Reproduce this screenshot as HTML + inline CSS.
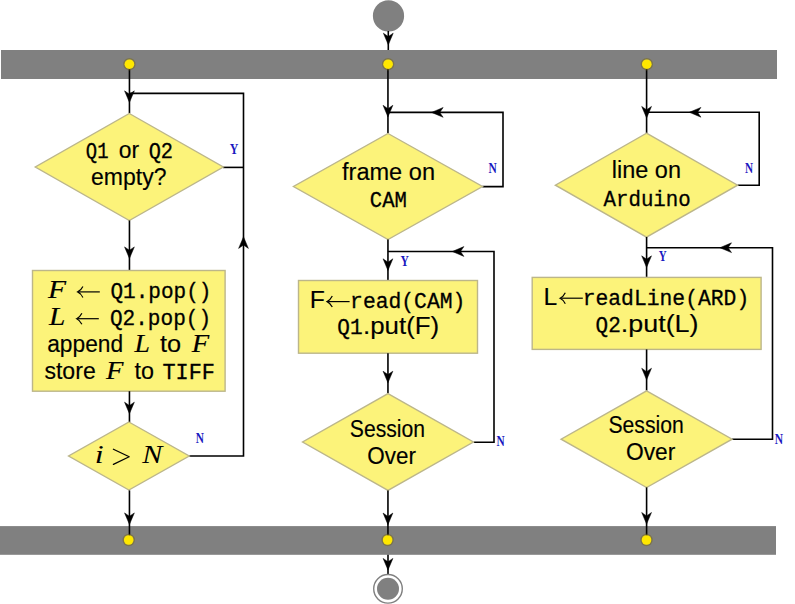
<!DOCTYPE html>
<html><head><meta charset="utf-8"><style>
html,body{margin:0;padding:0;background:#fff;}
body{width:795px;height:604px;overflow:hidden;}
svg{display:block;}
</style></head><body>
<svg width="795" height="604" viewBox="0 0 795 604">
<rect x="1" y="50" width="776" height="29" fill="#808080"/>
<rect x="0" y="526.1" width="776" height="28.7" fill="#808080"/>
<circle cx="388.5" cy="15.9" r="15.6" fill="#808080"/>
<path d="M388.3 31 L388.3 50" fill="none" stroke="#000" stroke-width="1.6"/>
<path transform="translate(388.3,44.8) rotate(0)" d="M0 0 L-4.9 -11.6 L0 -8.2 L4.9 -11.6Z" fill="#000" stroke="#000" stroke-width="0.5" stroke-linejoin="round"/>
<path d="M388 554.8 L388 576.5" fill="none" stroke="#000" stroke-width="1.6"/>
<path transform="translate(388,570.0) rotate(0)" d="M0 0 L-4.9 -11.6 L0 -8.2 L4.9 -11.6Z" fill="#000" stroke="#000" stroke-width="0.5" stroke-linejoin="round"/>
<circle cx="388" cy="588.8" r="14.3" fill="#fff" stroke="#808080" stroke-width="1.4"/>
<circle cx="388" cy="588.8" r="11" fill="#808080"/>
<path d="M129.45 64 L129.45 113.4" fill="none" stroke="#000" stroke-width="1.6"/>
<path transform="translate(129.45,102.45) rotate(0)" d="M0 0 L-4.9 -11.6 L0 -8.2 L4.9 -11.6Z" fill="#000" stroke="#000" stroke-width="0.5" stroke-linejoin="round"/>
<path d="M129.45 93.4 L243.5 93.4 L243.5 456 L189.2 456" fill="none" stroke="#000" stroke-width="1.6"/>
<path transform="translate(243.5,236.79999999999998) rotate(180)" d="M0 0 L-4.9 -11.6 L0 -8.2 L4.9 -11.6Z" fill="#000" stroke="#000" stroke-width="0.5" stroke-linejoin="round"/>
<path d="M223 167.4 L243.5 167.4" fill="none" stroke="#000" stroke-width="1.6"/>
<path d="M129.3 113.5 L223.3 167 L129.3 220.5 L35.30000000000001 167Z" fill="#fcf37a" stroke="#bcb68a" stroke-width="1.4"/>
<path d="M129.45 220.5 L129.45 270.5" fill="none" stroke="#000" stroke-width="1.6"/>
<path transform="translate(129.45,258.5) rotate(0)" d="M0 0 L-4.9 -11.6 L0 -8.2 L4.9 -11.6Z" fill="#000" stroke="#000" stroke-width="0.5" stroke-linejoin="round"/>
<rect x="32.5" y="270.5" width="192.6" height="120.69999999999999" fill="#fcf37a" stroke="#bcb68a" stroke-width="1.4"/>
<path d="M129.45 391.2 L129.45 422.3" fill="none" stroke="#000" stroke-width="1.6"/>
<path transform="translate(129.45,413.75) rotate(0)" d="M0 0 L-4.9 -11.6 L0 -8.2 L4.9 -11.6Z" fill="#000" stroke="#000" stroke-width="0.5" stroke-linejoin="round"/>
<path d="M128.9 422 L189.2 456 L128.9 490 L68.60000000000001 456Z" fill="#fcf37a" stroke="#bcb68a" stroke-width="1.4"/>
<path d="M129.45 490.4 L129.45 540" fill="none" stroke="#000" stroke-width="1.6"/>
<path transform="translate(129.45,524.5) rotate(0)" d="M0 0 L-4.9 -11.6 L0 -8.2 L4.9 -11.6Z" fill="#000" stroke="#000" stroke-width="0.5" stroke-linejoin="round"/>
<path d="M387.95 64 L387.95 133.3" fill="none" stroke="#000" stroke-width="1.6"/>
<path transform="translate(387.95,116.89999999999999) rotate(0)" d="M0 0 L-4.9 -11.6 L0 -8.2 L4.9 -11.6Z" fill="#000" stroke="#000" stroke-width="0.5" stroke-linejoin="round"/>
<path d="M387.95 112.4 L503 112.4 L503 186.6 L482.3 186.6" fill="none" stroke="#000" stroke-width="1.6"/>
<path transform="translate(431.55,112.4) rotate(90)" d="M0 0 L-4.9 -11.6 L0 -8.2 L4.9 -11.6Z" fill="#000" stroke="#000" stroke-width="0.5" stroke-linejoin="round"/>
<path d="M388 133.5 L482.5 186.5 L388 239.5 L293.5 186.5Z" fill="#fcf37a" stroke="#bcb68a" stroke-width="1.4"/>
<path d="M387.95 239.5 L387.95 280.5" fill="none" stroke="#000" stroke-width="1.6"/>
<path transform="translate(387.95,270.40000000000003) rotate(0)" d="M0 0 L-4.9 -11.6 L0 -8.2 L4.9 -11.6Z" fill="#000" stroke="#000" stroke-width="0.5" stroke-linejoin="round"/>
<path d="M387.95 251.5 L494 251.5 L494 442.2 L473.8 442.2" fill="none" stroke="#000" stroke-width="1.6"/>
<path transform="translate(452.3,251.5) rotate(90)" d="M0 0 L-4.9 -11.6 L0 -8.2 L4.9 -11.6Z" fill="#000" stroke="#000" stroke-width="0.5" stroke-linejoin="round"/>
<rect x="298.5" y="280.5" width="179.0" height="72.69999999999999" fill="#fcf37a" stroke="#bcb68a" stroke-width="1.4"/>
<path d="M387.95 353.2 L387.95 393.5" fill="none" stroke="#000" stroke-width="1.6"/>
<path transform="translate(387.95,382.8) rotate(0)" d="M0 0 L-4.9 -11.6 L0 -8.2 L4.9 -11.6Z" fill="#000" stroke="#000" stroke-width="0.5" stroke-linejoin="round"/>
<path d="M388 393.6 L473.4 442 L388 490.4 L302.6 442Z" fill="#fcf37a" stroke="#bcb68a" stroke-width="1.4"/>
<path d="M387.95 490.5 L387.95 540" fill="none" stroke="#000" stroke-width="1.6"/>
<path transform="translate(387.95,524.65) rotate(0)" d="M0 0 L-4.9 -11.6 L0 -8.2 L4.9 -11.6Z" fill="#000" stroke="#000" stroke-width="0.5" stroke-linejoin="round"/>
<path d="M646.6 64 L646.6 133.2" fill="none" stroke="#000" stroke-width="1.6"/>
<path transform="translate(646.6,118.0) rotate(0)" d="M0 0 L-4.9 -11.6 L0 -8.2 L4.9 -11.6Z" fill="#000" stroke="#000" stroke-width="0.5" stroke-linejoin="round"/>
<path d="M646.6 112.3 L759.2 112.3 L759.2 185.3 L737.6 185.3" fill="none" stroke="#000" stroke-width="1.6"/>
<path transform="translate(689.35,112.3) rotate(90)" d="M0 0 L-4.9 -11.6 L0 -8.2 L4.9 -11.6Z" fill="#000" stroke="#000" stroke-width="0.5" stroke-linejoin="round"/>
<path d="M646.5 133.2 L737.6 185.2 L646.5 237.2 L555.4 185.2Z" fill="#fcf37a" stroke="#bcb68a" stroke-width="1.4"/>
<path d="M646.6 237 L646.6 277.4" fill="none" stroke="#000" stroke-width="1.6"/>
<path transform="translate(646.6,267.45) rotate(0)" d="M0 0 L-4.9 -11.6 L0 -8.2 L4.9 -11.6Z" fill="#000" stroke="#000" stroke-width="0.5" stroke-linejoin="round"/>
<path d="M646.6 247.7 L772.5 247.7 L772.5 439.3 L732 439.3" fill="none" stroke="#000" stroke-width="1.6"/>
<path transform="translate(719.9000000000001,247.7) rotate(90)" d="M0 0 L-4.9 -11.6 L0 -8.2 L4.9 -11.6Z" fill="#000" stroke="#000" stroke-width="0.5" stroke-linejoin="round"/>
<rect x="532.2" y="277.4" width="228.89999999999998" height="72.0" fill="#fcf37a" stroke="#bcb68a" stroke-width="1.4"/>
<path d="M646.6 349.4 L646.6 390.7" fill="none" stroke="#000" stroke-width="1.6"/>
<path transform="translate(646.6,379.85) rotate(0)" d="M0 0 L-4.9 -11.6 L0 -8.2 L4.9 -11.6Z" fill="#000" stroke="#000" stroke-width="0.5" stroke-linejoin="round"/>
<path d="M646.6 390.9 L732.1 439.2 L646.6 487.5 L561.1 439.2Z" fill="#fcf37a" stroke="#bcb68a" stroke-width="1.4"/>
<path d="M646.6 487.4 L646.6 540" fill="none" stroke="#000" stroke-width="1.6"/>
<path transform="translate(646.6,524.0999999999999) rotate(0)" d="M0 0 L-4.9 -11.6 L0 -8.2 L4.9 -11.6Z" fill="#000" stroke="#000" stroke-width="0.5" stroke-linejoin="round"/>
<circle cx="129.4" cy="64.2" r="5.4" fill="none" stroke="#786a20" stroke-opacity="0.55" stroke-width="1.6"/>
<circle cx="129.4" cy="64.2" r="4.8" fill="#ffe800"/>
<circle cx="388.1" cy="64.2" r="5.4" fill="none" stroke="#786a20" stroke-opacity="0.55" stroke-width="1.6"/>
<circle cx="388.1" cy="64.2" r="4.8" fill="#ffe800"/>
<circle cx="646.8" cy="64.2" r="5.4" fill="none" stroke="#786a20" stroke-opacity="0.55" stroke-width="1.6"/>
<circle cx="646.8" cy="64.2" r="4.8" fill="#ffe800"/>
<circle cx="128.7" cy="540" r="5.4" fill="none" stroke="#786a20" stroke-opacity="0.55" stroke-width="1.6"/>
<circle cx="128.7" cy="540" r="4.8" fill="#ffe800"/>
<circle cx="387.6" cy="540" r="5.4" fill="none" stroke="#786a20" stroke-opacity="0.55" stroke-width="1.6"/>
<circle cx="387.6" cy="540" r="4.8" fill="#ffe800"/>
<circle cx="646.5" cy="540" r="5.4" fill="none" stroke="#786a20" stroke-opacity="0.55" stroke-width="1.6"/>
<circle cx="646.5" cy="540" r="4.8" fill="#ffe800"/>
<text x="229.7" y="154.4" font-family="Liberation Serif" font-weight="bold" font-size="15" textLength="8.6" lengthAdjust="spacingAndGlyphs" fill="#1818c0">Y</text>
<text x="195.7" y="443.09999999999997" font-family="Liberation Serif" font-weight="bold" font-size="15" textLength="8.199999999999994" lengthAdjust="spacingAndGlyphs" fill="#1818c0">N</text>
<text x="488.59999999999997" y="173.3" font-family="Liberation Serif" font-weight="bold" font-size="15" textLength="8.300000000000045" lengthAdjust="spacingAndGlyphs" fill="#1818c0">N</text>
<text x="400.5" y="265.59999999999997" font-family="Liberation Serif" font-weight="bold" font-size="15" textLength="8.400000000000011" lengthAdjust="spacingAndGlyphs" fill="#1818c0">Y</text>
<text x="496.4" y="446.09999999999997" font-family="Liberation Serif" font-weight="bold" font-size="15" textLength="8.200000000000022" lengthAdjust="spacingAndGlyphs" fill="#1818c0">N</text>
<text x="745.0" y="173.0" font-family="Liberation Serif" font-weight="bold" font-size="15" textLength="8.1" lengthAdjust="spacingAndGlyphs" fill="#1818c0">N</text>
<text x="658.7" y="261.4" font-family="Liberation Serif" font-weight="bold" font-size="15" textLength="7.899999999999954" lengthAdjust="spacingAndGlyphs" fill="#1818c0">Y</text>
<text x="774.7" y="443.7" font-family="Liberation Serif" font-weight="bold" font-size="15" textLength="8.300000000000045" lengthAdjust="spacingAndGlyphs" fill="#1818c0">N</text>
<text x="85.82" y="157.5" font-family="Liberation Mono" stroke="#000" stroke-width="0.3" font-size="21.5" textLength="22.69" lengthAdjust="spacingAndGlyphs" fill="#000">Q1</text>
<text x="118.71" y="157.5" font-family="Liberation Sans" stroke="#000" stroke-width="0.15" font-size="23.0" textLength="20.35" lengthAdjust="spacingAndGlyphs" fill="#000">or</text>
<text x="148.65" y="157.5" font-family="Liberation Mono" stroke="#000" stroke-width="0.3" font-size="21.5" textLength="24.41" lengthAdjust="spacingAndGlyphs" fill="#000">Q2</text>
<text x="91.0" y="184.6" font-family="Liberation Sans" stroke="#000" stroke-width="0.15" font-size="23.0" textLength="75.44" lengthAdjust="spacingAndGlyphs" fill="#000">empty?</text>
<text x="48.0" y="297.9" font-family="Liberation Serif" font-style="italic" stroke="#000" stroke-width="0.15" font-size="24.5" textLength="18.06" lengthAdjust="spacingAndGlyphs" fill="#000">F</text>
<text x="110.42" y="297.9" font-family="Liberation Mono" stroke="#000" stroke-width="0.3" font-size="21.5" textLength="101.03" lengthAdjust="spacingAndGlyphs" fill="#000">Q1.pop()</text>
<text x="49.0" y="324.8" font-family="Liberation Serif" font-style="italic" stroke="#000" stroke-width="0.15" font-size="24.5" textLength="16.37" lengthAdjust="spacingAndGlyphs" fill="#000">L</text>
<text x="109.92" y="324.8" font-family="Liberation Mono" stroke="#000" stroke-width="0.3" font-size="21.5" textLength="101.24" lengthAdjust="spacingAndGlyphs" fill="#000">Q2.pop()</text>
<text x="47.21" y="351.6" font-family="Liberation Sans" stroke="#000" stroke-width="0.15" font-size="23.0" textLength="75.93" lengthAdjust="spacingAndGlyphs" fill="#000">append</text>
<text x="134.6" y="351.6" font-family="Liberation Serif" font-style="italic" stroke="#000" stroke-width="0.15" font-size="24.5" textLength="15.42" lengthAdjust="spacingAndGlyphs" fill="#000">L</text>
<text x="160.1" y="351.6" font-family="Liberation Sans" stroke="#000" stroke-width="0.15" font-size="23.0" textLength="21.11" lengthAdjust="spacingAndGlyphs" fill="#000">to</text>
<text x="191.8" y="351.6" font-family="Liberation Serif" font-style="italic" stroke="#000" stroke-width="0.15" font-size="24.5" textLength="17.46" lengthAdjust="spacingAndGlyphs" fill="#000">F</text>
<text x="44.4" y="379.2" font-family="Liberation Sans" stroke="#000" stroke-width="0.15" font-size="23.0" textLength="51.35" lengthAdjust="spacingAndGlyphs" fill="#000">store</text>
<text x="106.0" y="379.2" font-family="Liberation Serif" font-style="italic" stroke="#000" stroke-width="0.15" font-size="24.5" textLength="17.46" lengthAdjust="spacingAndGlyphs" fill="#000">F</text>
<text x="134.6" y="379.2" font-family="Liberation Sans" stroke="#000" stroke-width="0.15" font-size="23.0" textLength="19.49" lengthAdjust="spacingAndGlyphs" fill="#000">to</text>
<text x="162.48" y="379.2" font-family="Liberation Mono" stroke="#000" stroke-width="0.3" font-size="21.5" textLength="52.45" lengthAdjust="spacingAndGlyphs" fill="#000">TIFF</text>
<text x="94.68" y="462.7" font-family="Liberation Serif" font-style="italic" font-size="24.5" textLength="8.99" lengthAdjust="spacingAndGlyphs" fill="#000">i</text>
<text x="142.2" y="462.7" font-family="Liberation Serif" font-style="italic" font-size="24.5" textLength="20.09" lengthAdjust="spacingAndGlyphs" fill="#000">N</text>
<text x="342.0" y="179.9" font-family="Liberation Sans" stroke="#000" stroke-width="0.15" font-size="23.0" textLength="92.98" lengthAdjust="spacingAndGlyphs" fill="#000">frame on</text>
<text x="369.84" y="207.1" font-family="Liberation Mono" stroke="#000" stroke-width="0.3" font-size="21.5" textLength="37.04" lengthAdjust="spacingAndGlyphs" fill="#000">CAM</text>
<text x="309.75" y="307.6" font-family="Liberation Sans" stroke="#000" stroke-width="0.15" font-size="23.0" textLength="15.09" lengthAdjust="spacingAndGlyphs" fill="#000">F</text>
<text x="350.12" y="307.6" font-family="Liberation Mono" stroke="#000" stroke-width="0.3" font-size="21.5" textLength="115.18" lengthAdjust="spacingAndGlyphs" fill="#000">read(CAM)</text>
<text x="337.32" y="334.3" font-family="Liberation Mono" stroke="#000" stroke-width="0.3" font-size="21.5" textLength="25.27" lengthAdjust="spacingAndGlyphs" fill="#000">Q1</text>
<text x="363.05" y="334.3" font-family="Liberation Sans" stroke="#000" stroke-width="0.15" font-size="23.0" textLength="76.1" lengthAdjust="spacingAndGlyphs" fill="#000">.put(F)</text>
<text x="349.78" y="437.0" font-family="Liberation Sans" stroke="#000" stroke-width="0.15" font-size="23.0" textLength="75.28" lengthAdjust="spacingAndGlyphs" fill="#000">Session</text>
<text x="367.32" y="464.1" font-family="Liberation Sans" stroke="#000" stroke-width="0.15" font-size="23.0" textLength="48.62" lengthAdjust="spacingAndGlyphs" fill="#000">Over</text>
<text x="611.78" y="178.4" font-family="Liberation Sans" stroke="#000" stroke-width="0.15" font-size="23.0" textLength="69.22" lengthAdjust="spacingAndGlyphs" fill="#000">line on</text>
<text x="603.6" y="206.1" font-family="Liberation Mono" stroke="#000" stroke-width="0.3" font-size="21.5" textLength="87.08" lengthAdjust="spacingAndGlyphs" fill="#000">Arduino</text>
<text x="543.56" y="304.5" font-family="Liberation Sans" stroke="#000" stroke-width="0.15" font-size="23.0" textLength="13.69" lengthAdjust="spacingAndGlyphs" fill="#000">L</text>
<text x="582.71" y="304.5" font-family="Liberation Mono" stroke="#000" stroke-width="0.3" font-size="21.5" textLength="166.49" lengthAdjust="spacingAndGlyphs" fill="#000">readLine(ARD)</text>
<text x="595.62" y="331.5" font-family="Liberation Mono" stroke="#000" stroke-width="0.3" font-size="21.5" textLength="25.17" lengthAdjust="spacingAndGlyphs" fill="#000">Q2</text>
<text x="620.86" y="331.5" font-family="Liberation Sans" stroke="#000" stroke-width="0.15" font-size="23.0" textLength="77.67" lengthAdjust="spacingAndGlyphs" fill="#000">.put(L)</text>
<text x="608.48" y="432.7" font-family="Liberation Sans" stroke="#000" stroke-width="0.15" font-size="23.0" textLength="75.28" lengthAdjust="spacingAndGlyphs" fill="#000">Session</text>
<text x="626.01" y="460.3" font-family="Liberation Sans" stroke="#000" stroke-width="0.15" font-size="23.0" textLength="49.34" lengthAdjust="spacingAndGlyphs" fill="#000">Over</text>
<path d="M113.4 449.2 L129.2 456.8 L113.4 464.4" fill="none" stroke="#000" stroke-width="1.25" stroke-linecap="round" stroke-linejoin="round"/>
<path d="M99.8 291.9 L78.7 291.9" stroke="#000" stroke-width="1.2" fill="none"/>
<path d="M82.9 286.4 Q80.9 290.4 77.7 291.9 Q80.9 293.4 82.9 297.4" stroke="#000" stroke-width="1.2" fill="none"/>
<path d="M98.8 318.7 L77.7 318.7" stroke="#000" stroke-width="1.2" fill="none"/>
<path d="M81.9 313.2 Q79.9 317.2 76.7 318.7 Q79.9 320.2 81.9 324.2" stroke="#000" stroke-width="1.2" fill="none"/>
<path d="M349.6 301.6 L328.1 301.6" stroke="#000" stroke-width="1.2" fill="none"/>
<path d="M332.3 296.1 Q330.3 300.1 327.1 301.6 Q330.3 303.1 332.3 307.1" stroke="#000" stroke-width="1.2" fill="none"/>
<path d="M582.8 298.2 L561.1 298.2" stroke="#000" stroke-width="1.2" fill="none"/>
<path d="M565.3000000000001 292.7 Q563.3000000000001 296.7 560.1 298.2 Q563.3000000000001 299.7 565.3000000000001 303.7" stroke="#000" stroke-width="1.2" fill="none"/>
</svg>
</body></html>
